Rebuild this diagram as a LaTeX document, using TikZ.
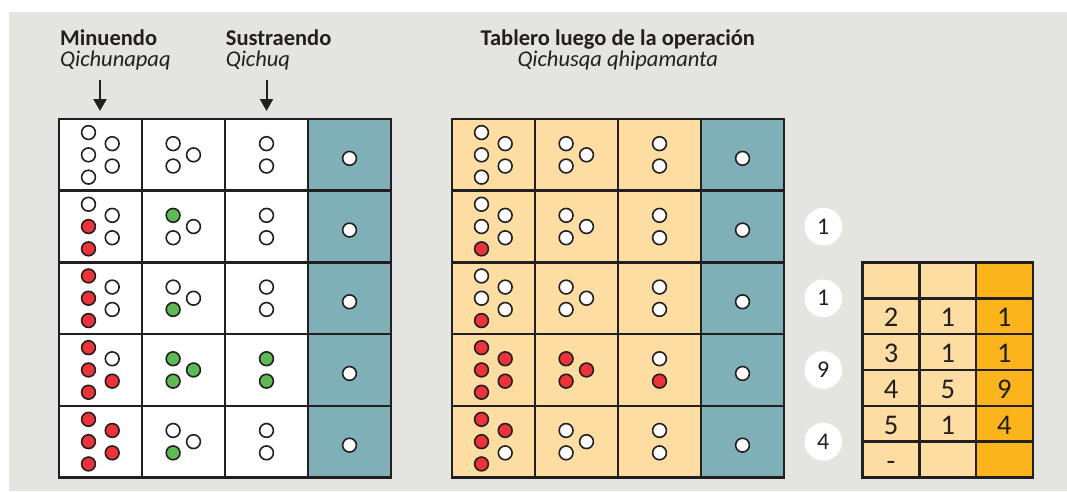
\documentclass[tikz,border=0pt]{standalone}
\usepackage{fontspec}
\setmainfont{Carlito}
\usetikzlibrary{arrows.meta}
\definecolor{panelgrey}{HTML}{E4E5E1}
\definecolor{ink}{HTML}{231F20}
\definecolor{boardteal}{HTML}{7FAFB7}
\definecolor{boardsand}{HTML}{FDDDA2}
\definecolor{boardgold}{HTML}{FBB41C}
\definecolor{rd}{HTML}{EE3239}
\definecolor{gn}{HTML}{5EBA55}
\colorlet{wt}{white}
\tikzset{
  cellline/.style={draw=ink, line width=2.6pt},
  downarrow/.style={draw=ink, line width=2pt, -{Triangle[length=12pt,width=13pt]}},
  heading/.style={anchor=base west, text=ink, inner sep=0pt, align=left,
    font=\fontsize{22.5}{21.5}\selectfont},
  bubble/.style={circle, fill=white, minimum size=37.7pt, inner sep=0pt, text=ink, font=\fontsize{24}{28}\selectfont},
  tabledigit/.style={anchor=base, text=ink, inner sep=0pt, font=\fontsize{28.5}{31}\selectfont}
}
% one bead and the bead groups of a cell
\newcommand{\bead}[3]{\filldraw[fill=#3, draw=ink, line width=1.6pt] (#1,#2) circle[radius=6.9];}
\newcommand{\fivebeads}[7]{%
  \bead{#1-12}{#2-22.3}{#3}\bead{#1-12}{#2}{#4}\bead{#1-12}{#2+22.3}{#5}%
  \bead{#1+11.7}{#2-11.2}{#6}\bead{#1+11.7}{#2+11.2}{#7}}
\newcommand{\threebeads}[5]{%
  \bead{#1-10.4}{#2-11.2}{#3}\bead{#1-10.4}{#2+11.2}{#4}\bead{#1+10}{#2}{#5}}
\newcommand{\twobeads}[4]{\bead{#1}{#2-11.2}{#3}\bead{#1}{#2+11.2}{#4}}
\begin{document}
\begin{tikzpicture}[x=1pt,y=-1pt]
\useasboundingbox (0,0) rectangle (1067,491);
\fill[panelgrey] (9,12) rectangle (1067,491);

% titles
\node[heading] (minuendo) at (60,66.5) {\textbf{Minuendo}\\\textit{Qichunapaq}};
\node[heading] (sustraendo) at (225.7,66.5) {\textbf{Sustraendo}\\\textit{Qichuq}};
\node[heading, anchor=base, align=center] (tablero) at (617.8,66.5)
  {\textbf{Tablero luego de la operación}\\\textit{Qichusqa qhipamanta}};
\coordinate (minfrom) at (100,80);
\coordinate (minto) at (100,111);
\coordinate (susfrom) at (266.5,80);
\coordinate (susto) at (266.5,111);
\draw[downarrow] (minfrom) -- (minto);
\draw[downarrow] (susfrom) -- (susto);

% board before: minuend and subtrahend
\fill[white] (59,119) rectangle (308,477.5);
\fill[boardteal] (308,119) rectangle (391,477.5);
\foreach \i in {0,...,3}
  \foreach \j in {0,...,4}
    \draw[cellline] ({59+83*\i},{119+71.7*\j}) rectangle ++(83,71.7);

% board after the operation
\fill[boardsand] (452,119) rectangle (701,477.5);
\fill[boardteal] (701,119) rectangle (784,477.5);
\foreach \i in {0,...,3}
  \foreach \j in {0,...,4}
    \draw[cellline] ({452+83*\i},{119+71.7*\j}) rectangle ++(83,71.7);

% beads, left board
\foreach \y/\a/\b/\c/\d/\e in {154.85/wt/wt/wt/wt/wt, 226.55/wt/rd/rd/wt/wt,
    298.25/rd/rd/rd/wt/wt, 369.95/rd/rd/rd/wt/rd, 441.65/rd/rd/rd/rd/rd}
  {\fivebeads{100.5}{\y}{\a}{\b}{\c}{\d}{\e}}
\foreach \y/\a/\b/\c in {154.85/wt/wt/wt, 226.55/gn/wt/wt, 298.25/wt/gn/wt,
    369.95/gn/gn/gn, 441.65/wt/gn/wt}
  {\threebeads{183.5}{\y}{\a}{\b}{\c}}
\foreach \y/\a/\b in {154.85/wt/wt, 226.55/wt/wt, 298.25/wt/wt, 369.95/gn/gn, 441.65/wt/wt}
  {\twobeads{266.5}{\y}{\a}{\b}}

% beads, right board
\foreach \y/\a/\b/\c/\d/\e in {154.85/wt/wt/wt/wt/wt, 226.55/wt/wt/rd/wt/wt,
    298.25/wt/wt/rd/wt/wt, 369.95/rd/rd/rd/rd/rd, 441.65/rd/rd/rd/rd/wt}
  {\fivebeads{493.5}{\y}{\a}{\b}{\c}{\d}{\e}}
\foreach \y/\a/\b/\c in {154.85/wt/wt/wt, 226.55/wt/wt/wt, 298.25/wt/wt/wt,
    369.95/rd/rd/rd, 441.65/wt/wt/wt}
  {\threebeads{576.5}{\y}{\a}{\b}{\c}}
\foreach \y/\a/\b in {154.85/wt/wt, 226.55/wt/wt, 298.25/wt/wt, 369.95/wt/rd, 441.65/wt/wt}
  {\twobeads{659.5}{\y}{\a}{\b}}

% single beads in the teal column
\foreach \y in {154.85,226.55,298.25,369.95,441.65} {
  \bead{349.5}{\y+3.5}{wt}
  \bead{742.5}{\y+3.5}{wt}
}

% results
\foreach \y/\n [count=\k] in {226.55/1, 298.25/1, 369.95/9, 441.65/4}
  \node[bubble] (bubble\k) at (823.3,\y) {\n};

% summary table
\fill[boardsand] (862.7,262.4) rectangle (976.1,477.5);
\fill[boardgold] (976.1,262.4) rectangle (1032.8,477.5);
\foreach \i in {0,...,2}
  \foreach \j in {0,...,5}
    \draw[cellline] ({862.7+56.7*\i},{262.4+35.85*\j}) rectangle ++(56.7,35.85);
\foreach \r/\a/\b/\c in {2/2/1/1, 3/3/1/1, 4/4/5/9, 5/5/1/4} {
  \node[tabledigit] (digit\r a) at (891.05,{262.4+35.85*(\r-0.5)+10.6}) {\a};
  \node[tabledigit] (digit\r b) at (947.75,{262.4+35.85*(\r-0.5)+10.6}) {\b};
  \node[tabledigit] (digit\r c) at (1004.45,{262.4+35.85*(\r-0.5)+10.6}) {\c};
}
\node[tabledigit] (dash) at (891.05,{262.4+35.85*5.5+10.6}) {-};
\end{tikzpicture}
\end{document}
